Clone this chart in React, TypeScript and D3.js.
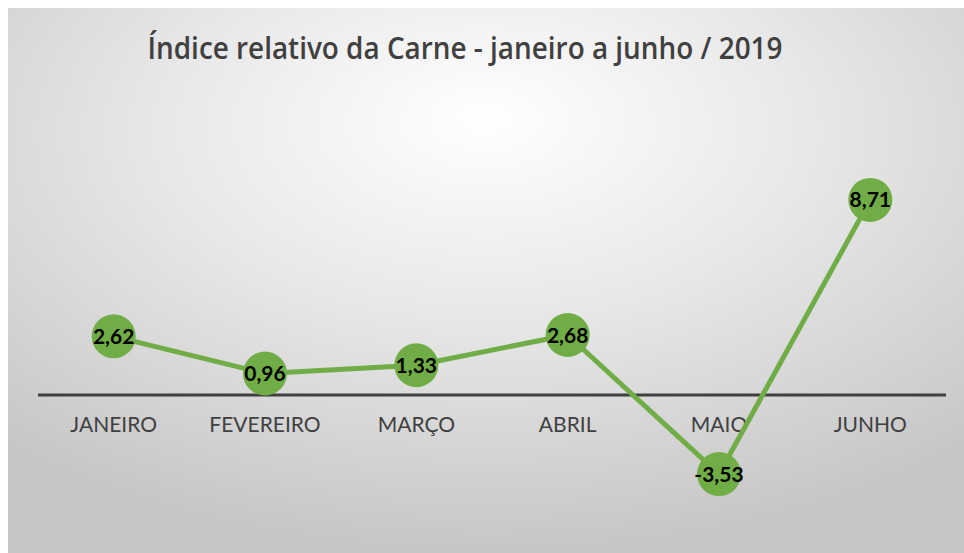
import React from "react";
import * as d3 from "d3";

const categories = ["JANEIRO", "FEVEREIRO", "MARÇO", "ABRIL", "MAIO", "JUNHO"];
const values = [2.62, 0.96, 1.33, 2.68, -3.53, 8.71];
const title = "Índice relativo da Carne - janeiro a junho / 2019";

const W = 964;
const H = 553;

export default function App() {
  const x = d3.scaleBand<string>().domain(categories).range([38, 946]);
  const y = d3.scaleLinear().domain([-4, 10]).range([484.6, 171]);
  const cx = (c: string) => (x(c) as number) + x.bandwidth() / 2;
  const line = d3
    .line<number>()
    .x((_, i) => cx(categories[i]))
    .y((d) => y(d));
  const fmt = (v: number) => v.toFixed(2).replace(".", ",");
  const font = "Lato, 'Open Sans', sans-serif";
  return (
    <svg
      width={W}
      height={H}
      style={{ position: "absolute", left: 0, top: 0, display: "block" }}
    >
      <defs>
        <radialGradient id="bg" cx="0.5" cy="0.25" r="0.75" fx="0.5" fy="0.2">
          <stop offset="0" stopColor="#ffffff" />
          <stop offset="0.45" stopColor="#e8e8e8" />
          <stop offset="1" stopColor="#c6c6c6" />
        </radialGradient>
      </defs>
      <rect x={0} y={0} width={W} height={H} fill="#ffffff" />
      <rect x={8} y={8} width={W - 8} height={H - 8} fill="url(#bg)" />
      <text
        x={465}
        y={59}
        textAnchor="middle"
        fontFamily="'Open Sans', Lato, sans-serif"
        fontWeight={600}
        fontSize={31}
        fill="#404040"
        textLength={635}
        lengthAdjust="spacingAndGlyphs"
      >
        {title}
      </text>
      <line x1={38} x2={946} y1={y(0)} y2={y(0)} stroke="#404040" strokeWidth={3} />
      {categories.map((c) => (
        <text
          key={c}
          x={cx(c)}
          y={432}
          textAnchor="middle"
          fontFamily={font}
          fontSize={21}
          fill="#404040"
        >
          {c}
        </text>
      ))}
      <path d={line(values) ?? ""} fill="none" stroke="#70AD47" strokeWidth={5} strokeLinejoin="round" />
      {values.map((v, i) => (
        <g key={i}>
          <circle cx={cx(categories[i])} cy={y(v)} r={22} fill="#70AD47" />
          <text
            x={cx(categories[i])}
            y={y(v)}
            dy="0.36em"
            textAnchor="middle"
            fontFamily={font}
            fontWeight="bold"
            fontSize={21}
            fill="#000000"
          >
            {fmt(v)}
          </text>
        </g>
      ))}
    </svg>
  );
}
